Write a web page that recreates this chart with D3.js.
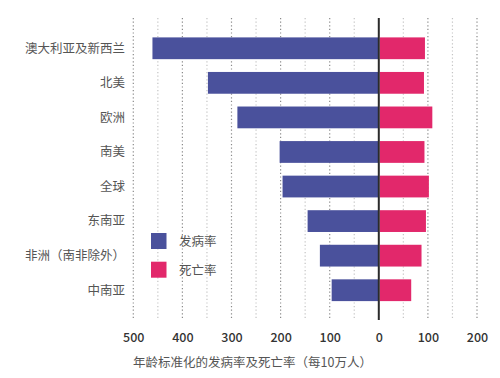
<!DOCTYPE html>
<html>
<head>
<meta charset="utf-8">
<script src="https://cdn.jsdelivr.net/npm/d3@7"></script>
<style>
  body { margin: 0; background: #fff; }
  text { font-family: "Noto Sans CJK SC", "Noto Sans", sans-serif; }
</style>
</head>
<body>
<script>
// regions, top to bottom
const regions = ["澳大利亚及新西兰", "北美", "欧洲", "南美", "全球", "东南亚", "非洲（南非除外）", "中南亚"];
// age-standardised rates per 100k
const incidence = [461, 348, 288, 202, 196, 145, 120, 96];
const mortality = [94, 92, 109, 93, 102, 96, 87, 66];
const tickValues = [-500, -400, -300, -200, -100, 0, 100, 200];
const gridValues = d3.range(-500, 201, 50);
const legendLabels = ["发病率", "死亡率"];

const blue = "#4a519c", pink = "#e2286b";

const width = 500, height = 378;

const svg = d3.select("body").append("svg")
    .attr("width", width)
    .attr("height", height);

// set the ranges
const x = d3.scaleLinear().domain([-500, 200]).range([133.3, 477]);
const y = d3.scaleBand().domain(regions)
    .range([31, 307.5])
    .paddingInner(0.37)
    .paddingOuter(0.185);

// dotted grid
svg.append("g").selectAll("line")
    .data(gridValues.filter(d => d !== 0))
    .join("line")
    .attr("x1", d => x(d)).attr("x2", d => x(d))
    .attr("y1", 18).attr("y2", 320)
    .attr("stroke", d => d % 100 === 0 ? "#8a8a8a" : "#c4c4c4")
    .attr("stroke-width", 1.2)
    .attr("stroke-dasharray", "1.2,2.4");

// incidence bars (left)
svg.append("g").selectAll("rect")
    .data(regions)
    .join("rect")
    .attr("x", (d, i) => x(-incidence[i]))
    .attr("y", d => y(d))
    .attr("width", (d, i) => x(0) - x(-incidence[i]))
    .attr("height", y.bandwidth())
    .attr("fill", blue);

// mortality bars (right)
svg.append("g").selectAll("rect")
    .data(regions)
    .join("rect")
    .attr("x", x(0) + 1)
    .attr("y", d => y(d))
    .attr("width", (d, i) => x(mortality[i]) - x(0) - 1)
    .attr("height", y.bandwidth())
    .attr("fill", pink);

// zero line
svg.append("line")
    .attr("x1", x(0)).attr("x2", x(0))
    .attr("y1", 18).attr("y2", 320)
    .attr("stroke", "#2b2b2b")
    .attr("stroke-width", 2);

// region labels
svg.append("g").selectAll("text")
    .data(regions)
    .join("text")
    .attr("x", 125)
    .attr("y", d => y(d) + y.bandwidth() / 2)
    .attr("dy", "0.35em")
    .attr("text-anchor", "end")
    .attr("font-size", 12.5)
    .attr("fill", "#555")
    .text(d => d);

// x axis tick labels
const xAxis = d3.axisBottom(x)
    .tickValues(tickValues)
    .tickFormat(d => Math.abs(d))
    .tickSize(0)
    .tickPadding(0);

const ax = svg.append("g")
    .attr("transform", "translate(0,333)")
    .call(xAxis);
ax.select(".domain").remove();
ax.selectAll("text")
    .attr("font-family", "Lato, 'Noto Sans', sans-serif")
    .attr("font-size", 12.5)
    .attr("font-weight", 500)
    .attr("fill", "#333");

// axis title
svg.append("text")
    .attr("x", 133)
    .attr("y", 363)
    .attr("dy", "0.35em")
    .attr("font-size", 12.5)
    .attr("fill", "#555")
    .text("年龄标准化的发病率及死亡率（每10万人）");

// legend
const legend = svg.append("g").selectAll("g")
    .data(legendLabels)
    .join("g")
    .attr("transform", (d, i) => "translate(151," + (233 + i * 28.7) + ")");
legend.append("rect")
    .attr("width", 15.5)
    .attr("height", 16)
    .attr("fill", (d, i) => i === 0 ? blue : pink);
legend.append("text")
    .attr("x", 28)
    .attr("y", 8.5)
    .attr("dy", "0.35em")
    .attr("font-size", 12.5)
    .attr("fill", "#555")
    .text(d => d);
</script>
</body>
</html>
